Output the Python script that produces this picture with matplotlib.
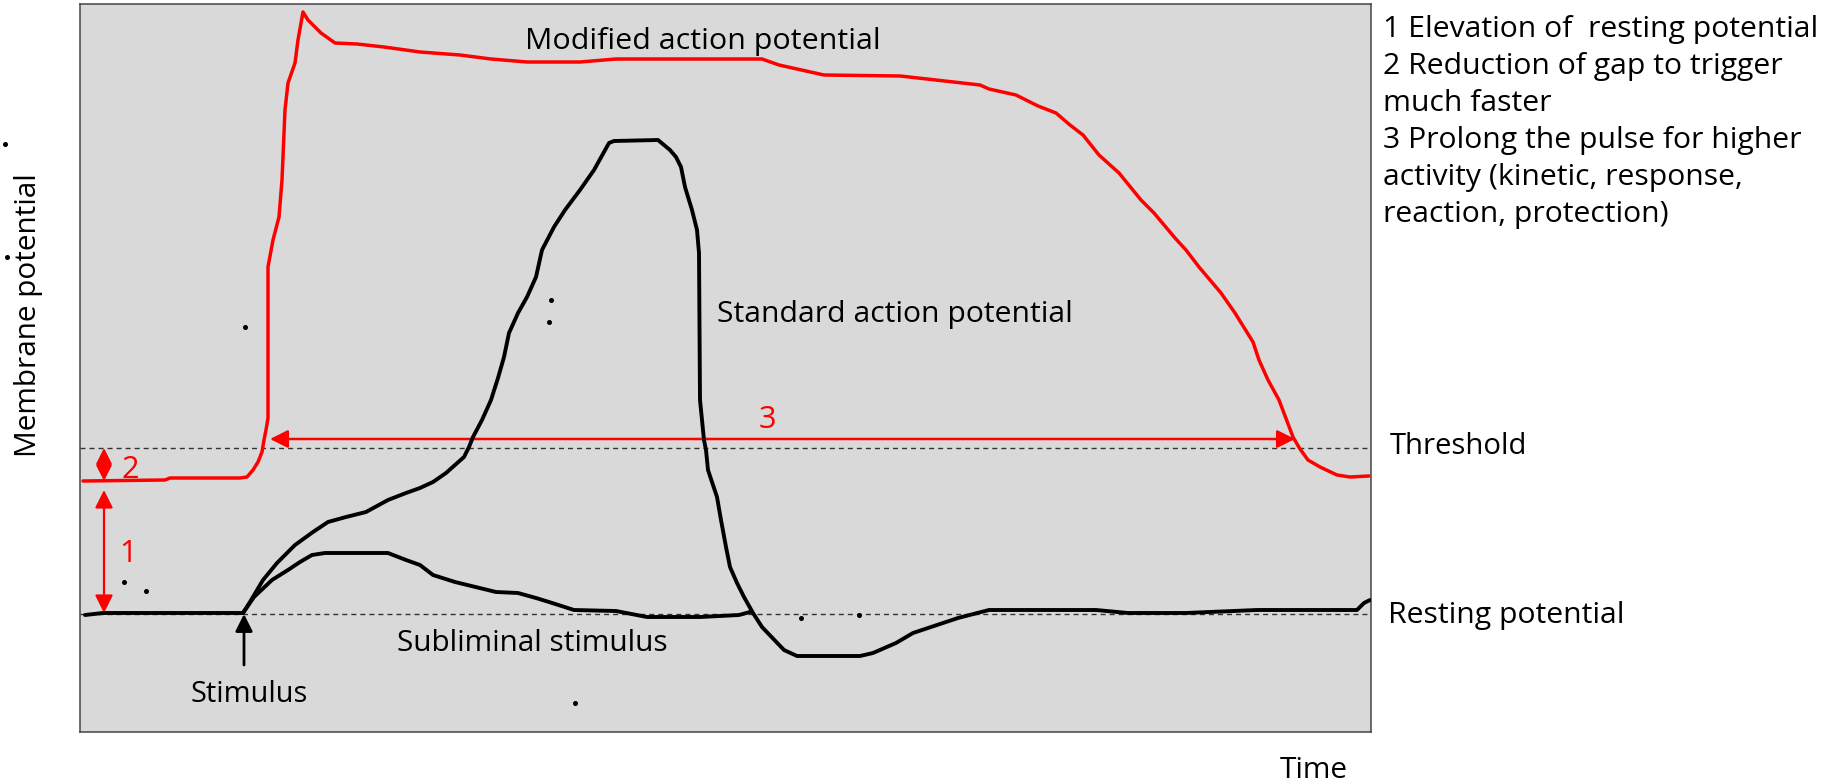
import matplotlib
matplotlib.use("Agg")
import matplotlib.pyplot as plt

# ---------------- data (time a.u., potential relative to resting level a.u.) ----------------
resting_level = 0
threshold_level = 166

modified_t = [3, 85, 90, 116, 160, 167, 173, 178, 182, 184, 186, 188, 188, 193, 199, 202, 205, 208,
              215, 218, 223, 228, 241, 255, 277, 304, 340, 380, 411, 447, 500, 536, 620, 682, 699,
              744, 820, 847, 900, 909, 936, 958, 976, 990, 1003, 1019, 1039, 1061, 1074, 1095, 1106,
              1119, 1141, 1155, 1173, 1179, 1188, 1199, 1213, 1220, 1228, 1240, 1257, 1270, 1289]
modified_v = [133, 134, 136, 136, 136, 137, 144, 152, 162, 174, 184, 196, 347, 374, 397, 434, 504, 531,
              551, 574, 602, 594, 581, 571, 570, 567, 562, 559, 555, 552, 552, 555, 555, 555, 549,
              539, 538, 535, 529, 525, 519, 508, 501, 489, 479, 459, 441, 414, 401, 376, 364,
              347, 321, 301, 272, 254, 234, 214, 177, 165, 154, 147, 139, 137, 138]

standard_t = [5, 23, 163, 170, 183, 197, 215, 233, 248, 266, 286, 308, 326, 340, 353, 366, 375, 384,
              389, 393, 402, 411, 418, 424, 429, 438, 447, 456, 462, 474, 485, 500, 514, 529, 534,
              578, 590, 596, 601, 605, 612, 617, 619, 620, 624, 626, 628, 637, 641, 646, 650, 657,
              664, 673, 682, 704, 717, 780, 793, 816, 833, 878, 909, 1016, 1048, 1106, 1177, 1277,
              1284, 1290]
standard_v = [-1, 1, 1, 12, 34, 51, 69, 82, 92, 97, 102, 114, 121, 126, 132, 141, 149, 157,
              167, 177, 194, 214, 236, 257, 281, 301, 317, 337, 364, 387, 404, 424, 444, 471, 473,
              474, 464, 457, 447, 427, 404, 384, 361, 214, 174, 164, 144, 117, 94, 67, 47, 31,
              17, 1, -13, -36, -42, -42, -39, -29, -19, -4, 4, 4, 1, 1, 4, 4,
              11, 14]

subliminal_t = [163, 174, 192, 208, 220, 232, 245, 308, 326, 340, 353, 375, 416, 438, 456, 469, 494,
                536, 567, 620, 659, 670]
subliminal_v = [1, 17, 34, 44, 52, 59, 61, 61, 54, 49, 39, 32, 22, 21, 16, 12, 4,
                3, -3, -3, -1, 2]

speck_t = [165, 471, 469, 44, 66, 495, 721, 779, -75, -73]
speck_v = [287, 314, 292, 32, 23, -89, -4, -1, 470, 357]

notes = ["1 Elevation of  resting potential",
         "2 Reduction of gap to trigger",
         "much faster",
         "3 Prolong the pulse for higher",
         "activity (kinetic, response,",
         "reaction, protection)"]

# ---------------- layout (figure pixels) ----------------
W, H = 1825, 782
L, R, T, B = 79.5, 1371, 4, 732
X0, Y0 = 80, 614          # pixel position of data origin


def d(px, py):
    """figure pixel (from top-left) -> data coords"""
    return px - X0, Y0 - py


FONT = "Open Sans"
plt.rcParams["font.family"] = [FONT, "DejaVu Sans"]

fig = plt.figure(figsize=(W / 100, H / 100), dpi=100)
ax = fig.add_axes([L / W, 1 - B / H, (R - L) / W, (B - T) / H])
ax.set_xlim(L - X0, R - X0)
ax.set_ylim(Y0 - B, Y0 - T)
ax.set_facecolor("#D9D9D9")
ax.set_xticks([])
ax.set_yticks([])
for s in ax.spines.values():
    s.set_color("#454545")
    s.set_linewidth(1.1)

# reference lines
ax.axhline(threshold_level, color="#333333", lw=1.0, ls=(0, (3.6, 2.9)), zorder=1)
ax.axhline(resting_level, color="#333333", lw=1.0, ls=(0, (3.6, 2.9)), zorder=1)

# red annotation arrows
arrow_kw = dict(arrowstyle="<|-|>", mutation_scale=27, lw=1.8, color="#FF0000",
                shrinkA=0, shrinkB=0)
ax.annotate("", xy=(1215, 175), xytext=(190, 175), arrowprops=arrow_kw, zorder=2)
ax.annotate("", xy=(24, 133), xytext=(24, 166),
            arrowprops=dict(arrow_kw, mutation_scale=24, lw=1.6), zorder=2)
ax.annotate("", xy=(24, 1), xytext=(24, 124),
            arrowprops=dict(arrow_kw, lw=1.6), zorder=2)

# curves
ax.plot(modified_t, modified_v, color="#FF0000", lw=2.5, solid_joinstyle="round",
        solid_capstyle="round", zorder=3)
ax.plot(subliminal_t, subliminal_v, color="black", lw=2.8, solid_joinstyle="round",
        solid_capstyle="round", zorder=4)
ax.plot(standard_t, standard_v, color="black", lw=2.8, solid_joinstyle="round",
        solid_capstyle="round", zorder=4)
ax.plot(speck_t, speck_v, "o", ms=2.6, color="black", clip_on=False, zorder=5)

# stimulus arrow
ax.annotate("", xy=(164, 0), xytext=(164, -51),
            arrowprops=dict(arrowstyle="-|>", mutation_scale=26, lw=2.0, color="black",
                            shrinkA=0, shrinkB=0), zorder=5)

renderer = fig.canvas.get_renderer()


def fit_text(px, py, s, width_px, color="black", ha="left", va="baseline", rotation=0):
    x, y = d(px, py)
    t = ax.text(x, y, s, fontsize=20, color=color, ha=ha, va=va, rotation=rotation,
                clip_on=False, zorder=6)
    bb = t.get_window_extent(renderer)
    w = bb.height if rotation == 90 else bb.width
    t.set_fontsize(20 * width_px / w)
    return t


fit_text(525, 49, "Modified action potential", 353)
fit_text(717, 322, "Standard action potential", 355)
fit_text(397, 651, "Subliminal stimulus", 271)
fit_text(190, 702, "Stimulus", 117)
fit_text(1280, 778, "Time", 68)
fit_text(1390, 454, "Threshold", 137)
fit_text(1388, 623, "Resting potential", 236)
fit_text(29, 315, "Membrane potential", 284, ha="center", va="center", rotation=90)

t0 = fit_text(1383, 37, notes[0], 434)
fs = t0.get_fontsize()
for i, line in enumerate(notes[1:], start=1):
    x, y = d(1383, 37 + 37 * i)
    ax.text(x, y, line, fontsize=fs, ha="left", va="baseline", clip_on=False, zorder=6)

for label, px, py in [("3", 767, 428), ("2", 130, 478), ("1", 128, 562)]:
    x, y = d(px, py)
    ax.text(x, y, label, fontsize=fs * 1.02, color="#FF0000", ha="center", va="baseline",
            clip_on=False, zorder=6)

fig.savefig("out.png", dpi=100)
